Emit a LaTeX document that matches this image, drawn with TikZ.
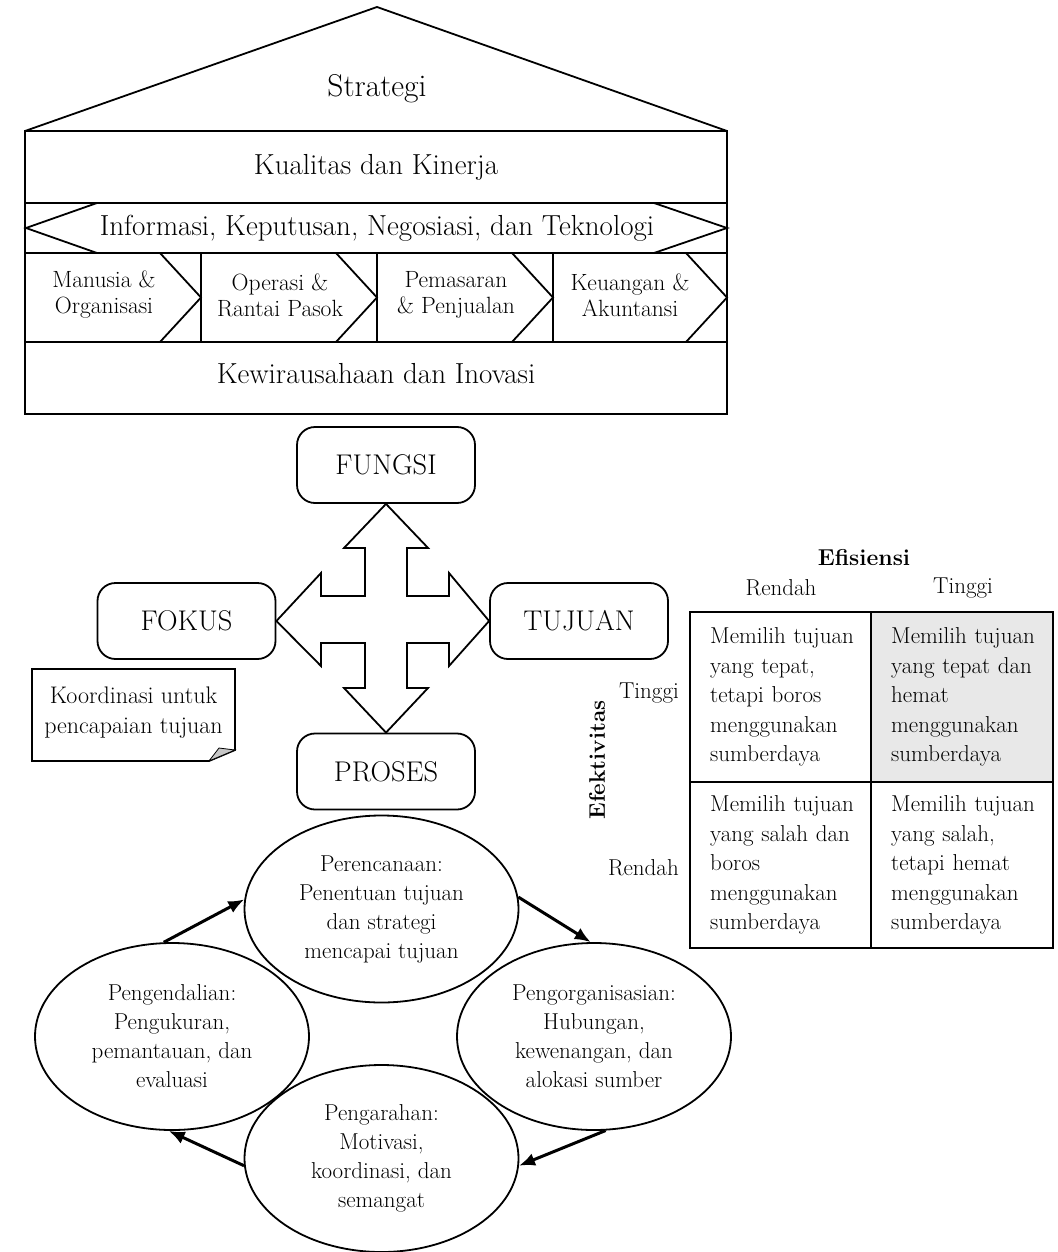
\documentclass[tikz,border=0pt]{standalone}
\usetikzlibrary{shapes.geometric,arrows.meta}
\begin{document}
\begin{tikzpicture}[x=1pt,y=-1pt,
  every node/.style={inner sep=0pt, font=\fontsize{23}{29.5}\selectfont},
  ln/.style={line width=1.8pt, line join=miter},
  big/.style={font=\fontsize{29}{32}\selectfont},
  fn/.style={align=center, font=\fontsize{23.5}{26}\selectfont},
  rbox/.style={draw, line width=1.8pt, rounded corners=18pt, minimum width=178pt, minimum height=76pt, font=\fontsize{28.5}{30}\selectfont},
  ell/.style={ellipse, draw, line width=1.8pt, minimum width=274pt, minimum height=187pt, align=center, font=\fontsize{23}{29}\selectfont},
  cyc/.style={line width=3pt, -{Latex[length=16pt,width=13pt]}},
  cell/.style={text width=160pt, align=left, anchor=west},
  bld/.style={font=\fontsize{23}{29.5}\selectfont\bfseries},
]
\useasboundingbox (0,0) rectangle (1057,1252);

% ---------- House ----------
\draw[ln] (25,131) -- (377,7) -- (727,131);
\draw[ln] (25,131) rectangle (727,414);
\draw[ln] (25,203) -- (727,203);
\draw[ln] (25,253) -- (727,253);
\draw[ln] (25,342) -- (727,342);
\draw[ln] (97,203) -- (26,228) -- (97,253);
\draw[ln] (654,203) -- (727,228) -- (654,253);
\foreach \d in {201,377,553}{\draw[ln] (\d,253) -- (\d,342);}
\foreach \d in {201,377,553,727}{\draw[ln] (\d-41,253) -- (\d,297.5) -- (\d-41,342);}

\node[font=\fontsize{31.5}{34}\selectfont] (strategi) at (377,89) {Strategi};
\node[big] (kualitas) at (376,167) {Kualitas dan Kinerja};
\node[big] (info) at (377,228) {Informasi, Keputusan, Negosiasi, dan Teknologi};
\node[fn] (f1) at (104,295) {Manusia \&\\Organisasi};
\node[fn] (f2) at (280,295) {Operasi \&\\Rantai Pasok};
\node[fn] (f3) at (456,295) {Pemasaran\\\& Penjualan};
\node[fn] (f4) at (630,295) {Keuangan \&\\Akuntansi};
\node[big] (kewira) at (376,374) {Kewirausahaan dan Inovasi};

% ---------- Cross ----------
\node[rbox] (fungsi) at (386,465) {FUNGSI};
\node[rbox] (fokus) at (186.5,621) {FOKUS};
\node[rbox] (tujuan) at (579,621) {TUJUAN};
\node[rbox] (proses) at (386,771.5) {PROSES};

\draw[ln] (fungsi.south) -- ++(42,44) -- ++(-21,0) -- (407,596) -- (449,596) -- (449,573) -- (tujuan.west)
  -- (449,666) -- (449,643) -- (407,643) -- (407,688) -- (428,688) -- (proses.north)
  -- (344,688) -- (365,688) -- (365,643) -- (321,643) -- (321,666) -- (fokus.east)
  -- (321,573) -- (321,596) -- (365,596) -- (365,548) -- (344,548) -- cycle;

% ---------- Note ----------
\draw[ln] (32,669) -- (235,669) -- (235,750) -- (209,761) -- (32,761) -- cycle;
\filldraw[fill=gray!45, line width=0.8pt] (209,761) -- (235,750) -- (219,748) -- cycle;
\node[align=center, font=\fontsize{24}{30}\selectfont] (note) at (133.5,713) {Koordinasi untuk\\pencapaian tujuan};

% ---------- Matrix ----------
\fill[gray!18] (871,612) rectangle (1053,782);
\draw[line width=2.2pt] (690,612) rectangle (1053,948);
\draw[line width=2.2pt] (871,612) -- (871,948);
\draw[line width=2.2pt] (690,782) -- (1053,782);
\node[cell] (c11) at (710,697) {Memilih tujuan\\yang tepat,\\tetapi boros\\menggunakan\\sumberdaya};
\node[cell] (c12) at (891,697) {Memilih tujuan\\yang tepat dan\\hemat\\menggunakan\\sumberdaya};
\node[cell] (c21) at (710,865) {Memilih tujuan\\yang salah dan\\boros\\menggunakan\\sumberdaya};
\node[cell] (c22) at (891,865) {Memilih tujuan\\yang salah,\\tetapi hemat\\menggunakan\\sumberdaya};
\node[bld] (efis) at (864,558) {Efisiensi};
\node (colL) at (781,588) {Rendah};
\node (colH) at (963,588) {Tinggi};
\node[anchor=east] (rowH) at (679,693) {Tinggi};
\node[anchor=east] (rowL) at (679,868) {Rendah};
\node[bld, font=\fontsize{22.5}{29}\selectfont\bfseries, rotate=90] (efek) at (597,760) {Efektivitas};

% ---------- Cycle ----------
\node[ell] (plan) at (381.5,909) {Perencanaan:\\Penentuan tujuan\\dan strategi\\mencapai tujuan};
\node[ell] (org) at (594,1036.5) {Pengorganisasian:\\Hubungan,\\kewenangan, dan\\alokasi sumber};
\node[ell] (ctrl) at (172,1036.5) {Pengendalian:\\Pengukuran,\\pemantauan, dan\\evaluasi};
\node[ell] (dir) at (381.5,1158.5) {Pengarahan:\\Motivasi,\\koordinasi, dan\\semangat};

\draw[cyc] (ctrl.95) -- (plan.176);
\draw[cyc] (plan.5) -- (org.92);
\draw[cyc] (org.277) -- (dir.-3);
\draw[cyc] (dir.183) -- (ctrl.268);
\end{tikzpicture}
\end{document}
